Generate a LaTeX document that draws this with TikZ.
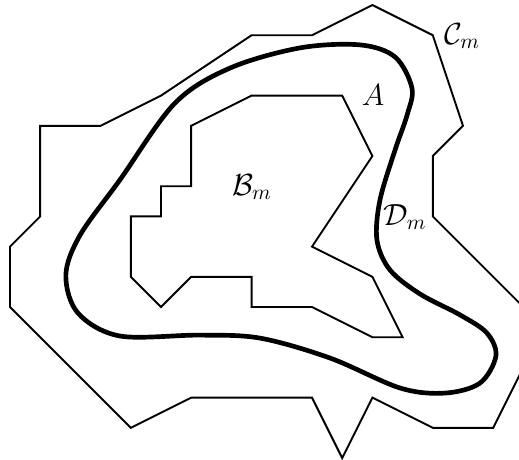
\documentclass[tikz,border=0pt]{standalone}
\usepackage{tikz}
\usetikzlibrary{positioning}

\begin{document}
\begin{tikzpicture}[x=0.5cm, y=-0.5cm,
  region/.style={draw=black, line width=0.9pt, line join=miter},
  curveA/.style={draw=black, line width=2.2pt},
  lab/.style={font=\Large, inner sep=0pt}]

  \useasboundingbox (-0.331,-0.166) rectangle (16.854,15.033);
  \clip (-0.331,-0.166) rectangle (16.854,15.033);

  % outer region C_m
  \draw[region] (1,4) -- (3,4) -- (5,3) -- (8,1) -- (10,1) -- (12,0) -- (14,1)
    -- (15,4) -- (14,5) -- (14,7) -- (17,10) -- (17,12) -- (16,14) -- (14,14)
    -- (12,13) -- (11,15) -- (10,13) -- (6,13) -- (4,14) -- (0,10) -- (0,8)
    -- (1,7) -- cycle;

  % inner region B_m
  \draw[region] (8,3) -- (6,4) -- (6,6) -- (5,6) -- (5,7) -- (4,7) -- (4,9)
    -- (5,10) -- (6,9) -- (8,9) -- (8,10) -- (10,10) -- (12,11) -- (13,11)
    -- (12,9) -- (10,8) -- (12,5) -- (11,3) -- cycle;

  % the set A
  \draw[curveA] plot[smooth cycle, tension=0.55] coordinates {
    (13.31,2.75) (12.75,1.72) (11.59,1.32) (9.60,1.42) (7.28,2.09)
    (5.46,3.25) (3.64,5.79) (2.32,7.62) (1.85,8.94) (2.25,10.20)
    (3.64,10.96) (6.29,10.93) (8.28,11.03) (10.60,11.69) (12.91,12.68)
    (14.40,12.85) (15.56,12.52) (16.09,11.62) (15.79,10.86) (14.90,10.26)
    (13.58,9.57) (12.58,8.77) (12.15,7.78) (12.25,6.46) (12.75,4.80)
    (13.15,3.64)};

  \node[lab] (cm) at (14.97,1.03) {$\mathcal{C}_m$};
  \node[lab] (a) at (12.02,2.98) {$A$};
  \node[lab] (bm) at (8.01,6.03) {$\mathcal{B}_m$};
  \node[lab] (dm) at (13.08,7.02) {$\mathcal{D}_m$};
\end{tikzpicture}
\end{document}
